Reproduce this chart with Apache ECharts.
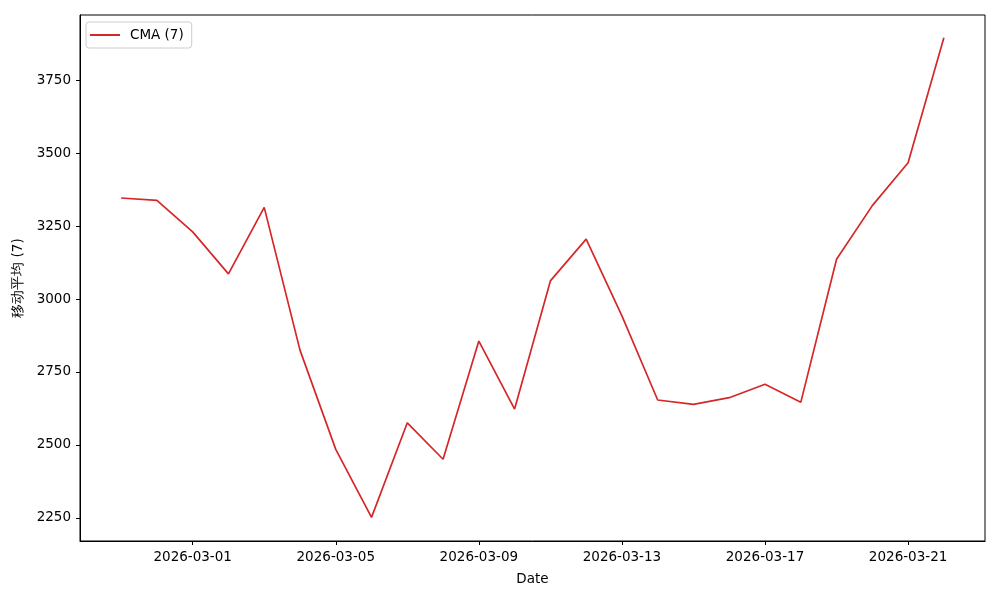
<!DOCTYPE html>
<html>
<head>
<meta charset="utf-8">
<script src="https://cdn.jsdelivr.net/npm/echarts@6/dist/echarts.min.js"></script>
<style>
  html, body {margin: 0; padding: 0; background: #fff;}
  #chart {width: 1000px; height: 600px;}
</style>
</head>
<body>
<div id="chart"></div>
<script>
// day offsets from 2026-03-01 (02-27 .. 03-22)
const dayOffsets = [-2, -1, 0, 1, 2, 3, 4, 5, 6, 7, 8, 9, 10, 11, 12, 13, 14, 15, 16, 17, 18, 19, 20, 21]
const cmaValues = [3346, 3338, 3230, 3086, 3314, 2825, 2485, 2252, 2576, 2451, 2856, 2623,
                   3062, 3205, 2942, 2654, 2639, 2662, 2708, 2646, 3136, 3320, 3467, 3895]
const xTicks = [0, 4, 8, 12, 16, 20]
const yTicks = [2250, 2500, 2750, 3000, 3250, 3500, 3750]

const base = Date.UTC(2026, 2, 1)
const dayLabel = d => new Date(base + d * 86400000).toISOString().slice(0, 10)

const font = "DejaVu Sans"
const chart = echarts.init(document.getElementById("chart"))

chart.setOption({
    animation: false,
    textStyle: {fontFamily: font},
    grid: {left: 80, right: 15, top: 15, bottom: 59, show: true, borderColor: "#000", borderWidth: 1},
    legend: {
        left: 86, top: 22,
        padding: [6, 8, 6, 4],
        borderColor: "#ccc", borderWidth: 1, borderRadius: 3,
        itemWidth: 30, itemHeight: 10, itemGap: 8,
        textStyle: {fontFamily: font, fontSize: 13.5, color: "#000", padding: [0, 0, 0, 5]},
        data: [{name: "CMA (7)", icon: "path://M0,0L30,0L30,2L0,2Z"}]
    },
    xAxis: {
        type: "value",
        min: -3.15, max: 22.15,
        name: "Date", nameLocation: "middle", nameGap: 31,
        nameTextStyle: {fontFamily: font, fontSize: 13.5, color: "#000"},
        axisLine: {show: true, onZero: false, lineStyle: {color: "#000"}},
        axisTick: {show: true, length: 4, lineStyle: {color: "#000"}, customValues: xTicks},
        axisLabel: {color: "#000", fontSize: 13.5, margin: 9, customValues: xTicks, formatter: v => dayLabel(v)},
        splitLine: {show: false}
    },
    yAxis: {
        type: "value",
        min: 2171, max: 3973,
        name: "移动平均 (7)", nameLocation: "middle", nameGap: 53,
        nameTextStyle: {fontFamily: font, fontSize: 13.5, color: "#000"},
        axisLine: {show: true, onZero: false, lineStyle: {color: "#000"}},
        axisTick: {show: true, length: 4, lineStyle: {color: "#000"}, customValues: yTicks},
        axisLabel: {color: "#000", fontSize: 13.5, margin: 9, customValues: yTicks, formatter: v => String(v)},
        splitLine: {show: false}
    },
    series: [{
        name: "CMA (7)",
        type: "line",
        showSymbol: false,
        color: "#d62728",
        lineStyle: {width: 1.7, color: "#d62728"},
        data: dayOffsets.map((d, i) => [d, cmaValues[i]])
    }]
})
</script>
</body>
</html>
